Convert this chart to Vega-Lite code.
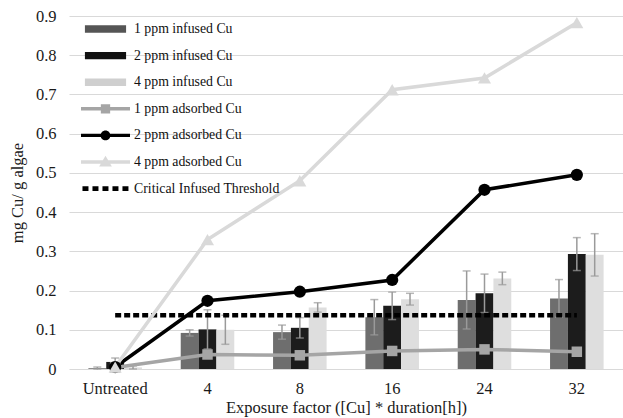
{
  "$schema": "https://vega.github.io/schema/vega-lite/v6.json",
  "width": 554,
  "height": 353,
  "autosize": {"type": "none"},
  "padding": {"left": 69, "top": 16, "right": 0, "bottom": 49},
  "background": "white",
  "config": {
    "view": {"stroke": null},
    "font": "Liberation Serif",
    "axis": {"labelFont": "Liberation Serif", "titleFont": "Liberation Serif", "labelColor": "#1a1a1a", "titleColor": "#1a1a1a", "titleFontWeight": "normal", "labelOverlap": false},
    "axisY": {
      "title": "mg Cu/ g algae",
      "labelOverlap": false,
      "tickCount": 9,
      "format": "~g",
      "labelFontSize": 16.5,
      "titleFontSize": 16.5,
      "labelPadding": 13,
      "titlePadding": 10,
      "domain": false,
      "ticks": false,
      "gridColor": "#d9d9d9",
      "gridWidth": 1.2
    },
    "legend": {"labelFont": "Liberation Serif"}
  },
  "datasets": {
    "bars": [
      {"cat": "Untreated", "series": "1 ppm infused Cu", "value": 0.002, "err": 0.003},
      {"cat": "Untreated", "series": "2 ppm infused Cu", "value": 0.018, "err": 0.01},
      {"cat": "Untreated", "series": "4 ppm infused Cu", "value": 0.004, "err": 0.004},
      {"cat": "4", "series": "1 ppm infused Cu", "value": 0.092, "err": 0.008},
      {"cat": "4", "series": "2 ppm infused Cu", "value": 0.101, "err": 0.05},
      {"cat": "4", "series": "4 ppm infused Cu", "value": 0.1, "err": 0.037},
      {"cat": "8", "series": "1 ppm infused Cu", "value": 0.094, "err": 0.018},
      {"cat": "8", "series": "2 ppm infused Cu", "value": 0.105, "err": 0.026},
      {"cat": "8", "series": "4 ppm infused Cu", "value": 0.157, "err": 0.012},
      {"cat": "16", "series": "1 ppm infused Cu", "value": 0.132, "err": 0.045},
      {"cat": "16", "series": "2 ppm infused Cu", "value": 0.161, "err": 0.035},
      {"cat": "16", "series": "4 ppm infused Cu", "value": 0.178, "err": 0.015},
      {"cat": "24", "series": "1 ppm infused Cu", "value": 0.176, "err": 0.074},
      {"cat": "24", "series": "2 ppm infused Cu", "value": 0.193, "err": 0.049},
      {"cat": "24", "series": "4 ppm infused Cu", "value": 0.231, "err": 0.016},
      {"cat": "32", "series": "1 ppm infused Cu", "value": 0.18, "err": 0.048},
      {"cat": "32", "series": "2 ppm infused Cu", "value": 0.293, "err": 0.042},
      {"cat": "32", "series": "4 ppm infused Cu", "value": 0.291, "err": 0.054}
    ],
    "lines": [
      {"cat": "Untreated", "series": "1 ppm adsorbed Cu", "value": 0.004},
      {"cat": "4", "series": "1 ppm adsorbed Cu", "value": 0.037},
      {"cat": "8", "series": "1 ppm adsorbed Cu", "value": 0.035},
      {"cat": "16", "series": "1 ppm adsorbed Cu", "value": 0.046},
      {"cat": "24", "series": "1 ppm adsorbed Cu", "value": 0.05},
      {"cat": "32", "series": "1 ppm adsorbed Cu", "value": 0.044},
      {"cat": "Untreated", "series": "2 ppm adsorbed Cu", "value": 0.005},
      {"cat": "4", "series": "2 ppm adsorbed Cu", "value": 0.174},
      {"cat": "8", "series": "2 ppm adsorbed Cu", "value": 0.197},
      {"cat": "16", "series": "2 ppm adsorbed Cu", "value": 0.227},
      {"cat": "24", "series": "2 ppm adsorbed Cu", "value": 0.457},
      {"cat": "32", "series": "2 ppm adsorbed Cu", "value": 0.495},
      {"cat": "Untreated", "series": "4 ppm adsorbed Cu", "value": 0.005},
      {"cat": "4", "series": "4 ppm adsorbed Cu", "value": 0.33},
      {"cat": "8", "series": "4 ppm adsorbed Cu", "value": 0.48},
      {"cat": "16", "series": "4 ppm adsorbed Cu", "value": 0.712},
      {"cat": "24", "series": "4 ppm adsorbed Cu", "value": 0.742},
      {"cat": "32", "series": "4 ppm adsorbed Cu", "value": 0.883}
    ],
    "threshold": [
      {"start": "Untreated", "end": "32", "value": 0.137}
    ],
    "legend": [
      {"key": "1 ppm infused Cu"},
      {"key": "2 ppm infused Cu"},
      {"key": "4 ppm infused Cu"},
      {"key": "1 ppm adsorbed Cu"},
      {"key": "2 ppm adsorbed Cu"},
      {"key": "4 ppm adsorbed Cu"},
      {"key": "Critical Infused Threshold"}
    ]
  },
  "encoding": {
    "x": {
      "field": "cat",
      "type": "nominal",
      "sort": ["Untreated", "4", "8", "16", "24", "32"],
      "scale": {"domain": ["Untreated", "4", "8", "16", "24", "32"], "paddingInner": 0.42, "paddingOuter": 0.21},
      "axis": {
        "title": "Exposure factor ([Cu] * duration[h])",
        "labelAngle": 0,
        "labelFont": "Liberation Serif",
        "titleFont": "Liberation Serif",
        "labelFontSize": 16.5,
        "titleFontSize": 16.5,
        "labelPadding": 11,
        "titlePadding": 3,
        "domain": false,
        "ticks": false
      }
    }
  },
  "layer": [
    {
      "data": {"name": "bars"},
      "mark": {"type": "bar"},
      "encoding": {
        "xOffset": {"field": "series", "type": "nominal", "scale": {"domain": ["1 ppm infused Cu", "2 ppm infused Cu", "4 ppm infused Cu"], "paddingInner": 0, "paddingOuter": 0}},
        "y": {
          "field": "value",
          "type": "quantitative",
          "title": "mg Cu/ g algae",
          "scale": {"domain": [0, 0.9], "nice": false}
        },
        "fill": {"field": "series", "type": "nominal", "legend": null, "scale": {"domain": ["1 ppm infused Cu", "2 ppm infused Cu", "4 ppm infused Cu"], "range": ["#6e6e6e", "#1c1c1c", "#dedede"]}}
      }
    },
    {
      "data": {"name": "bars"},
      "mark": {"type": "rule", "color": "#9a9a9a", "strokeWidth": 1.5},
      "encoding": {
        "xOffset": {"field": "series", "type": "nominal"},
        "y": {"field": "lo", "type": "quantitative", "title": "mg Cu/ g algae"},
        "y2": {"field": "hi"}
      },
      "transform": [
        {"calculate": "datum.value - datum.err", "as": "lo"},
        {"calculate": "datum.value + datum.err", "as": "hi"}
      ]
    },
    {
      "data": {"name": "bars"},
      "mark": {"type": "tick", "color": "#9a9a9a", "thickness": 1.5, "size": 8, "orient": "horizontal"},
      "encoding": {
        "xOffset": {"field": "series", "type": "nominal"},
        "y": {"field": "hi", "type": "quantitative", "title": "mg Cu/ g algae"}
      },
      "transform": [
        {"calculate": "datum.value + datum.err", "as": "hi"}
      ]
    },
    {
      "data": {"name": "bars"},
      "mark": {"type": "tick", "color": "#9a9a9a", "thickness": 1.5, "size": 8, "orient": "horizontal"},
      "encoding": {
        "xOffset": {"field": "series", "type": "nominal"},
        "y": {"field": "lo", "type": "quantitative", "title": "mg Cu/ g algae"}
      },
      "transform": [
        {"calculate": "max(0, datum.value - datum.err)", "as": "lo"}
      ]
    },
    {
      "data": {"name": "threshold"},
      "mark": {"type": "rule", "color": "#000000", "strokeWidth": 4.5, "strokeDash": [6, 3]},
      "encoding": {
        "x": {"field": "start", "type": "nominal"},
        "x2": {"field": "end"},
        "y": {"field": "value", "type": "quantitative", "title": "mg Cu/ g algae"}
      }
    },
    {
      "data": {"name": "lines"},
      "mark": {"type": "line", "strokeWidth": 3.5},
      "encoding": {
        "y": {"field": "value", "type": "quantitative", "title": "mg Cu/ g algae"},
        "stroke": {"field": "series", "type": "nominal", "legend": null, "scale": {"domain": ["1 ppm adsorbed Cu", "2 ppm adsorbed Cu", "4 ppm adsorbed Cu"], "range": ["#a5a5a5", "#000000", "#d9d9d9"]}},
        "detail": {"field": "series"}
      }
    },
    {
      "data": {"name": "lines"},
      "transform": [{"filter": "datum.series == '1 ppm adsorbed Cu'"}],
      "mark": {"type": "point", "shape": "square", "filled": true, "size": 110, "color": "#a5a5a5", "opacity": 1},
      "encoding": {"y": {"field": "value", "type": "quantitative", "title": "mg Cu/ g algae"}}
    },
    {
      "data": {"name": "lines"},
      "transform": [{"filter": "datum.series == '2 ppm adsorbed Cu'"}],
      "mark": {"type": "point", "shape": "circle", "filled": true, "size": 150, "color": "#000000", "opacity": 1},
      "encoding": {"y": {"field": "value", "type": "quantitative", "title": "mg Cu/ g algae"}}
    },
    {
      "data": {"name": "lines"},
      "transform": [{"filter": "datum.series == '4 ppm adsorbed Cu'"}],
      "mark": {"type": "point", "shape": "triangle-up", "filled": true, "size": 170, "color": "#d9d9d9", "opacity": 1},
      "encoding": {"y": {"field": "value", "type": "quantitative", "title": "mg Cu/ g algae"}}
    },
    {
      "data": {"name": "legend"},
      "transform": [{"filter": "datum.key == 'no such key'"}],
      "mark": {"type": "point", "filled": true, "size": 2401, "opacity": 1},
      "encoding": {
        "x": null,
        "color": {
          "field": "key",
          "type": "nominal",
          "scale": {
            "domain": ["1 ppm infused Cu", "2 ppm infused Cu", "4 ppm infused Cu", "1 ppm adsorbed Cu", "2 ppm adsorbed Cu", "4 ppm adsorbed Cu", "Critical Infused Threshold"],
            "range": ["#555555", "#111111", "#cfcfcf", "#a5a5a5", "#000000", "#d9d9d9", "#000000"]
          },
          "legend": {
            "title": null,
            "orient": "none",
            "padding": 0,
            "legendX": 12,
            "legendY": 5,
            "symbolSize": 2401,
            "symbolOpacity": 1,
            "symbolStrokeWidth": 0,
            "clipHeight": 16,
            "rowPadding": 10.6,
            "labelOffset": 4,
            "labelFontSize": 13.8,
            "labelFont": "Liberation Serif",
            "labelColor": "#111111",
            "labelLimit": 300
          }
        },
        "shape": {
          "field": "key",
          "type": "nominal",
          "scale": {
            "domain": ["1 ppm infused Cu", "2 ppm infused Cu", "4 ppm infused Cu", "1 ppm adsorbed Cu", "2 ppm adsorbed Cu", "4 ppm adsorbed Cu", "Critical Infused Threshold"],
            "range": [
              "M-0.84,-0.15H0.84V0.15H-0.84Z",
              "M-0.84,-0.15H0.84V0.15H-0.84Z",
              "M-0.84,-0.15H0.84V0.15H-0.84Z",
              "M-1,-0.07H1V0.07H-1Z M-0.19,-0.19H0.19V0.19H-0.19Z",
              "M-1,-0.07H1V0.07H-1Z M-0.2,0A0.2,0.2 0 1,1 0.2,0A0.2,0.2 0 1,1 -0.2,0Z",
              "M-1,-0.07H1V0.07H-1Z M0,-0.26L0.26,0.18H-0.26Z",
              "M-0.94,-0.1H-0.695V0.1H-0.94Z M-0.532,-0.1H-0.287V0.1H-0.532Z M-0.124,-0.1H0.121V0.1H-0.124Z M0.284,-0.1H0.529V0.1H0.284Z M0.692,-0.1H0.937V0.1H0.692Z"
            ]
          },
          "legend": {"title": null}
        }
      }
    }
  ]
}
